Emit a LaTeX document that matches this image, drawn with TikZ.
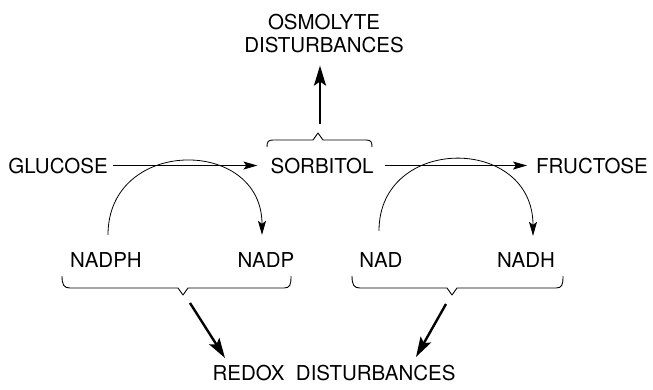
\documentclass[tikz,border=0pt]{standalone}
\usepackage{fontspec}
\setmainfont{TeX Gyre Heros}
\usetikzlibrary{arrows.meta}
\begin{document}
\begin{tikzpicture}[x=1pt,y=1pt,
  lbl/.style={inner sep=0pt,anchor=base,font=\fontsize{20.5}{23}\selectfont},
  thinarrow/.style={line width=0.8pt,-{Stealth[length=14pt,width=8pt,inset=3pt]}},
  thickarrow/.style={line width=2.4pt,-{Stealth[length=20pt,width=12pt,inset=4pt]}},
  bracestyle/.style={line width=0.9pt,line join=round}]
\useasboundingbox (0,0) rectangle (653,389);
% labels
\node[lbl] (osm1) at (324,359) {OSMOLYTE};
\node[lbl] (osm2) at (324,336) {DISTURBANCES};
\node[lbl] (glucose) at (58,216) {GLUCOSE};
\node[lbl] (sorbitol) at (322,216) {SORBITOL};
\node[lbl] (fructose) at (592,216) {FRUCTOSE};
\node[lbl] (nadph) at (106,122) {NADPH};
\node[lbl] (nadp) at (266,122) {NADP};
\node[lbl] (nad) at (381,122) {NAD};
\node[lbl] (nadh) at (526,122) {NADH};
\node[lbl] (redox) at (334,9) {REDOX\ \ DISTURBANCES};
% main reactions
\draw[thinarrow,shorten <=5pt,shorten >=13pt] (glucose.east) -- (sorbitol.west);
\draw[thinarrow,shorten <=11pt,shorten >=9pt] (sorbitol.east) -- (fructose.west);
% cofactor arcs
\draw[thinarrow] ([xshift=2pt,yshift=17pt]nadph.north) .. controls +(0,98) and +(0,98) .. ([xshift=-4pt,yshift=17pt]nadp.north);
\draw[thinarrow] ([xshift=-2pt,yshift=21pt]nad.north) .. controls +(0,96) and +(0,101) .. ([xshift=7pt,yshift=16pt]nadh.north);
% brace above sorbitol
\draw[bracestyle] (267,242) .. controls (267,247) and (268,249) .. (273,249) -- (313,249) -- (318,256) -- (323,249) -- (366,249) .. controls (371,249) and (372,247) .. (372,242);
% braces below cofactors
\draw[bracestyle] (62,113) .. controls (62,104) and (64,101) .. (70,101) -- (178,101) -- (183,94) -- (188,101) -- (284,101) .. controls (290,101) and (291,104) .. (291,113);
\draw[bracestyle] (352,113) .. controls (352,104) and (354,101) .. (360,101) -- (447,101) -- (452,94) -- (457,101) -- (556,101) .. controls (562,101) and (563,104) .. (563,113);
% thick arrows
\coordinate (ot) at (320,265);
\draw[thickarrow,shorten >=12pt] (ot) -- (ot |- osm2.south);
\coordinate (ls) at (190,86);
\coordinate (le) at (225,31);
\coordinate (rs) at (446,85);
\coordinate (re) at (416,32);
\draw[thickarrow] (ls) -- (le);
\draw[thickarrow] (rs) -- (re);
\end{tikzpicture}
\end{document}
